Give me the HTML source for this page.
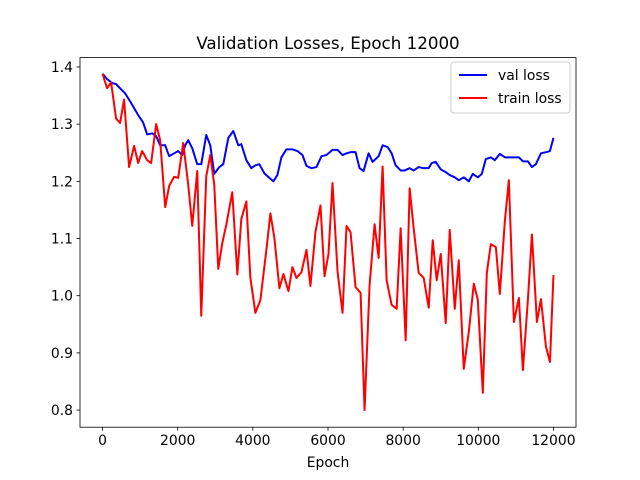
<!DOCTYPE html>
<html><head><meta charset="utf-8"><style>
body{margin:0;background:#fff}
svg{display:block;font-family:"DejaVu Sans","Liberation Sans",sans-serif}
</style></head><body>
<svg id="chart" width="640" height="480" viewBox="0 0 640 480">
<rect width="640" height="480" fill="#fff"/>
<text x="328" y="49" text-anchor="middle" font-size="16.7">Validation Losses, Epoch 12000</text>
<g id="plot"></g>
<text x="328" y="467" text-anchor="middle" font-size="13.9">Epoch</text>
<g>
<rect x="451" y="62" width="119" height="51" rx="3" fill="#fff" fill-opacity="0.8" stroke="#ccc"/>
<line x1="459" y1="75" x2="487" y2="75" stroke="#0000ff" stroke-width="2"/>
<text x="498" y="80" font-size="13.9">val loss</text>
<line x1="459" y1="98" x2="487" y2="98" stroke="#ff0000" stroke-width="2"/>
<text x="498" y="103" font-size="13.9">train loss</text>
</g>
</svg>
<script>
const xTicks=[0,2000,4000,6000,8000,10000,12000];
const yTicks=[0.8,0.9,1.0,1.1,1.2,1.3,1.4];
const trainEpochs=[0,120,227,360,467,573,707,840,947,1053,1187,1293,1427,1533,1667,1773,1907,2013,2147,2280,2387,2520,2627,2760,2867,2973,3080,3187,3293,3453,3587,3693,3827,3933,4067,4200,4360,4467,4573,4707,4813,4947,5053,5160,5293,5427,5533,5667,5800,5907,6013,6120,6253,6387,6493,6600,6733,6867,6973,7107,7240,7347,7453,7560,7693,7827,7933,8067,8173,8280,8413,8547,8680,8787,8893,9000,9133,9240,9373,9480,9613,9747,9880,9987,10120,10227,10333,10467,10573,10707,10813,10947,11080,11187,11320,11427,11560,11667,11800,11907,12000];
const trainLoss=[1.388,1.363,1.373,1.310,1.302,1.343,1.225,1.262,1.232,1.253,1.237,1.232,1.300,1.272,1.155,1.192,1.208,1.206,1.267,1.194,1.122,1.218,0.965,1.209,1.246,1.194,1.047,1.092,1.124,1.181,1.037,1.134,1.165,1.032,0.970,0.992,1.080,1.144,1.101,1.013,1.038,1.008,1.050,1.031,1.041,1.080,1.017,1.112,1.158,1.034,1.073,1.197,1.043,0.970,1.122,1.111,1.015,1.005,0.800,1.019,1.125,1.066,1.226,1.027,0.984,0.977,1.118,0.922,1.188,1.118,1.040,1.031,0.979,1.097,1.027,1.073,0.952,1.115,0.977,1.062,0.872,0.937,1.021,0.993,0.830,1.040,1.090,1.085,1.003,1.131,1.202,0.954,0.996,0.870,0.993,1.107,0.954,0.994,0.911,0.884,1.036];
const valEpochs=[0,120,253,360,493,600,733,840,947,1080,1187,1320,1427,1533,1667,1773,1907,2013,2120,2200,2280,2387,2520,2627,2760,2867,2973,3107,3213,3347,3480,3613,3693,3827,3960,4067,4173,4307,4440,4547,4653,4760,4893,5053,5187,5320,5427,5560,5693,5827,5960,6120,6253,6387,6493,6600,6733,6840,6947,7080,7187,7347,7453,7587,7693,7800,7933,8040,8173,8280,8413,8547,8680,8760,8867,9000,9133,9240,9373,9480,9613,9747,9853,9987,10093,10200,10333,10440,10573,10707,10813,10920,11080,11187,11320,11427,11533,11667,11800,11907,12000];
const valLoss=[1.388,1.379,1.372,1.370,1.361,1.354,1.340,1.328,1.316,1.303,1.282,1.284,1.279,1.263,1.263,1.244,1.249,1.253,1.246,1.263,1.272,1.258,1.230,1.230,1.281,1.263,1.213,1.225,1.230,1.276,1.288,1.263,1.265,1.237,1.223,1.228,1.230,1.214,1.206,1.200,1.211,1.242,1.256,1.256,1.253,1.246,1.227,1.223,1.225,1.244,1.246,1.255,1.255,1.246,1.249,1.251,1.251,1.223,1.218,1.249,1.234,1.244,1.263,1.260,1.249,1.228,1.219,1.219,1.223,1.219,1.225,1.223,1.223,1.232,1.234,1.221,1.216,1.211,1.207,1.202,1.207,1.200,1.213,1.207,1.213,1.239,1.242,1.237,1.248,1.242,1.242,1.242,1.242,1.235,1.235,1.225,1.230,1.249,1.251,1.253,1.276];

const L=80,R=576,T=57.6,B=427.2;
const X0=-600,X1=12600,Y0=0.77,Y1=1.4164;
const sx=v=>L+(v-X0)/(X1-X0)*(R-L);
const sy=v=>B-(v-Y0)/(Y1-Y0)*(B-T);
const NS='http://www.w3.org/2000/svg';
const g=document.getElementById('plot');
function mk(tag,attrs){const e=document.createElementNS(NS,tag);for(const k in attrs)e.setAttribute(k,attrs[k]);g.appendChild(e);return e;}
xTicks.forEach(t=>{
  const l=mk('line',{x1:sx(t),x2:sx(t),y1:B,y2:B+3.5,stroke:'#000','stroke-width':0.8});
  
  
  const tx=mk('text',{x:sx(t),y:B+18,'text-anchor':'middle','font-size':13.9});
  
  
  tx.textContent=t;
});
yTicks.forEach(t=>{
  const l=mk('line',{x1:L-3.5,x2:L,y1:sy(t),y2:sy(t),stroke:'#000','stroke-width':0.8});
  
  
  const tx=mk('text',{x:L-7,y:sy(t)+5,'text-anchor':'end','font-size':13.9});
  
  
  tx.textContent=t.toFixed(1);
});
function line(xs,ys,color,name){
  const p=mk('polyline',{points:xs.map((x,i)=>sx(x)+','+sy(ys[i])).join(' '),fill:'none',stroke:color,'stroke-width':2,'stroke-linejoin':'round'});
  
  
}
line(valEpochs,valLoss,'#0000ff','val-loss-line');
line(trainEpochs,trainLoss,'#ff0000','train-loss-line');
const fr=mk('rect',{x:L,y:T,width:R-L,height:B-T,fill:'none',stroke:'#000','stroke-width':0.8});


</script>
</body></html>
